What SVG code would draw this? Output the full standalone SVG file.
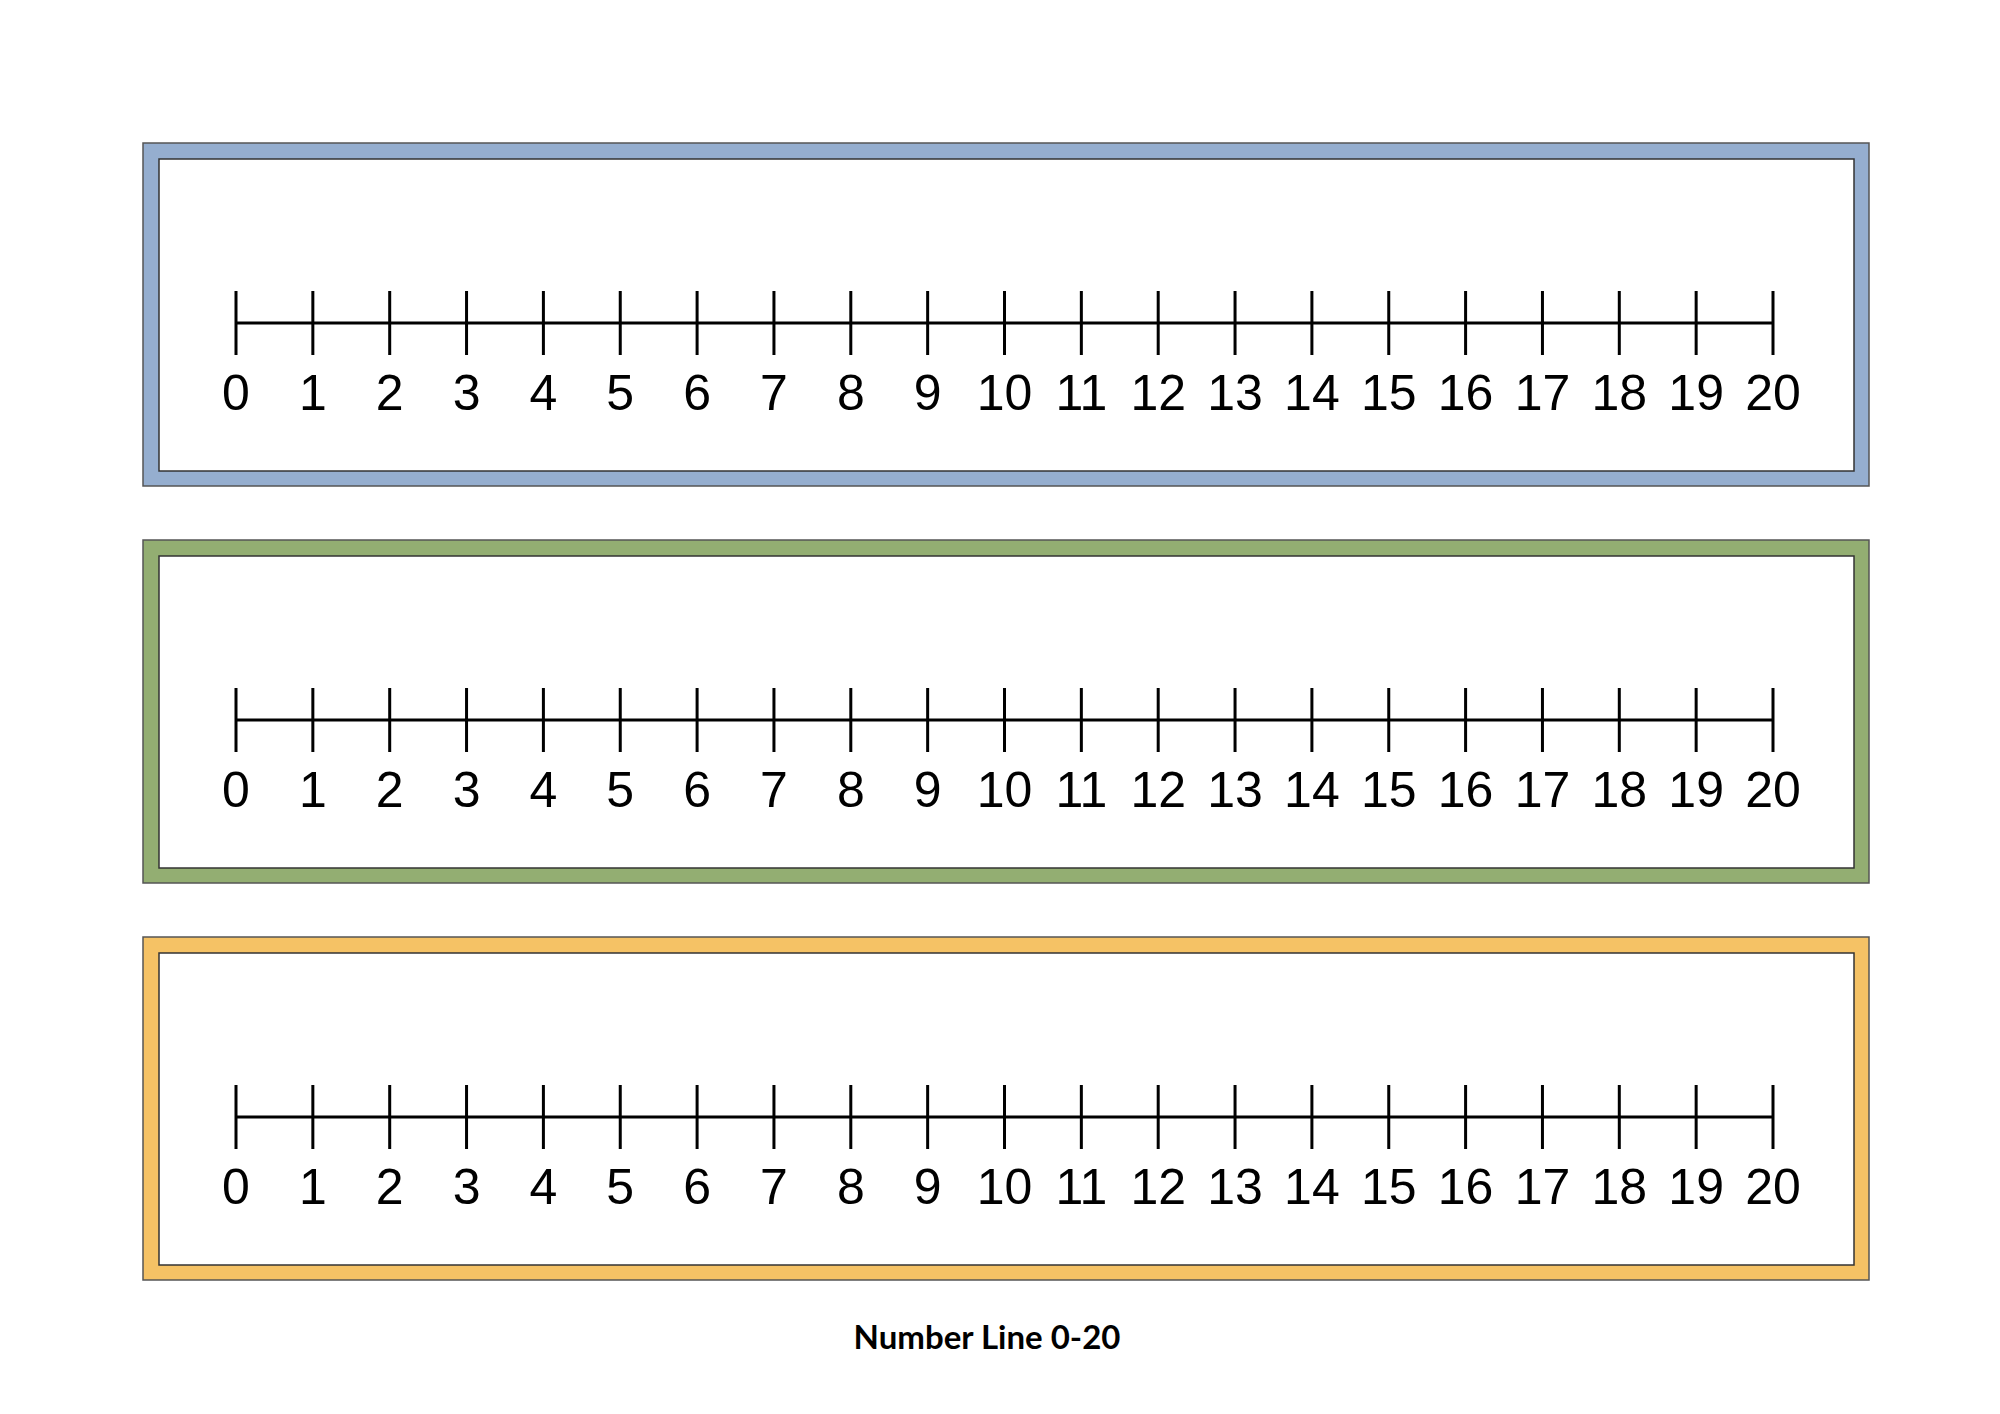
<svg xmlns="http://www.w3.org/2000/svg" width="2000" height="1414" viewBox="0 0 2000 1414">
<style>
.o{stroke:#555;stroke-width:1.5}
.i{fill:#fff;stroke:#333;stroke-width:1.5}
.ln{stroke:#000;stroke-width:3;fill:none}
.t{font-family:"Liberation Sans",Arial,sans-serif;font-size:50px;text-anchor:middle;fill:#000}
</style>
<defs>
<g id="nl">
<path class="ln" d="M236 0H1773 M236 -32V32 M312.85 -32V32 M389.7 -32V32 M466.55 -32V32 M543.4 -32V32 M620.25 -32V32 M697.1 -32V32 M773.95 -32V32 M850.8 -32V32 M927.65 -32V32 M1004.5 -32V32 M1081.35 -32V32 M1158.2 -32V32 M1235.05 -32V32 M1311.9 -32V32 M1388.75 -32V32 M1465.6 -32V32 M1542.45 -32V32 M1619.3 -32V32 M1696.15 -32V32 M1773 -32V32"/>
<g class="t">
<text x="236" y="87">0</text><text x="312.85" y="87">1</text><text x="389.7" y="87">2</text><text x="466.55" y="87">3</text><text x="543.4" y="87">4</text><text x="620.25" y="87">5</text><text x="697.1" y="87">6</text><text x="773.95" y="87">7</text><text x="850.8" y="87">8</text><text x="927.65" y="87">9</text><text x="1004.5" y="87">10</text><text x="1081.35" y="87">11</text><text x="1158.2" y="87">12</text><text x="1235.05" y="87">13</text><text x="1311.9" y="87">14</text><text x="1388.75" y="87">15</text><text x="1465.6" y="87">16</text><text x="1542.45" y="87">17</text><text x="1619.3" y="87">18</text><text x="1696.15" y="87">19</text><text x="1773" y="87">20</text>
</g>
</g>
</defs>
<rect width="2000" height="1414" fill="#fff"/>
<g id="strip1">
<rect class="o" x="143" y="143" width="1726" height="343" fill="#95aecf"/>
<rect class="i" x="159" y="159" width="1695" height="312"/>
<use href="#nl" y="323"/>
</g>
<g id="strip2">
<rect class="o" x="143" y="540" width="1726" height="343" fill="#93ae72"/>
<rect class="i" x="159" y="556" width="1695" height="312"/>
<use href="#nl" y="720"/>
</g>
<g id="strip3">
<rect class="o" x="143" y="937" width="1726" height="343" fill="#f5c265"/>
<rect class="i" x="159" y="953" width="1695" height="312"/>
<use href="#nl" y="1117"/>
</g>
<text x="987" y="1349" font-family="Lato,'Liberation Sans',sans-serif" font-weight="bold" font-size="33" text-anchor="middle">Number Line 0-20</text>
</svg>
